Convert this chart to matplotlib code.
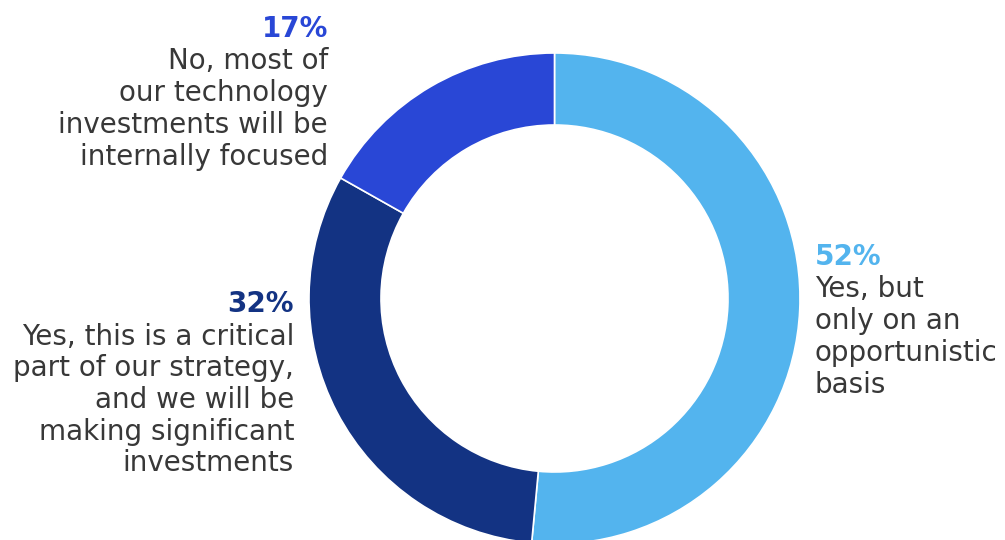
import numpy as np
import matplotlib
matplotlib.use('Agg')
import matplotlib.pyplot as plt

# survey answers, clockwise from 12 o'clock
shares = [52, 32, 17]
pct_labels = ['52%', '32%', '17%']
colors = ['#53B4EE', '#133383', '#2947D6']
answers = [
    ['Yes, but', 'only on an', 'opportunistic', 'basis'],
    ['Yes, this is a critical', 'part of our strategy,', 'and we will be',
     'making significant', 'investments'],
    ['No, most of', 'our technology', 'investments will be', 'internally focused'],
]

W, H = 1005, 540
fig = plt.figure(figsize=(W / 100, H / 100), dpi=100)
ax = fig.add_axes([0, 0, 1, 1])

cx, cy, r = 554.5, H - 298.5, 245.5
ax.pie(shares, colors=colors, startangle=90, counterclock=False,
       center=(cx, cy), radius=r,
       wedgeprops=dict(width=72, edgecolor='white', linewidth=1.2))
ax.set_xlim(0, W)
ax.set_ylim(0, H)
ax.set_aspect('equal')
ax.axis('off')

# label anchors: (x, baseline of percent, alignment)
anchors = [(815, 265, 'left'), (294, 312, 'right'), (328, 37, 'right')]
fs = 20
for (x, y0, ha), pct, lines, col in zip(anchors, pct_labels, answers, colors):
    ax.text(x, H - y0, pct, ha=ha, va='baseline', fontsize=fs,
            fontweight='bold', color=col, family='DejaVu Sans')
    y = y0 + 32.5
    for ln in lines:
        ax.text(x, H - y, ln, ha=ha, va='baseline', fontsize=fs,
                color='#383838', family='DejaVu Sans')
        y += 31.7

fig.savefig('out.png', dpi=100)
